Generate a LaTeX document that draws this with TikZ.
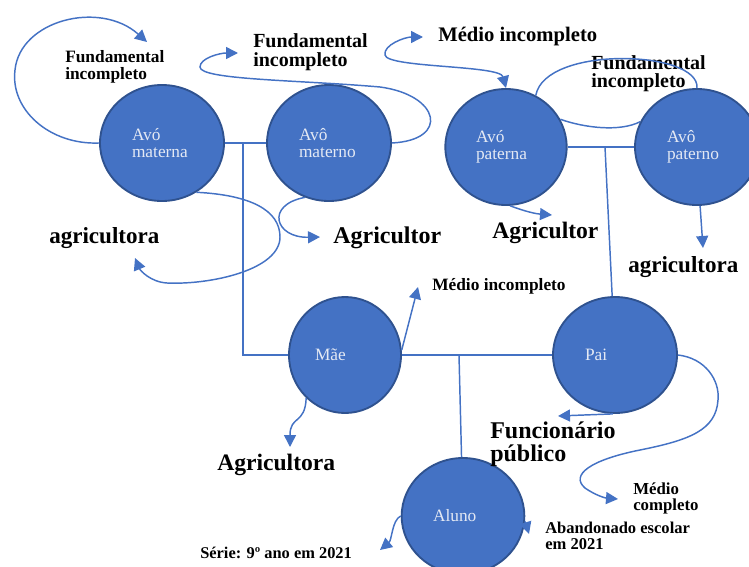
\documentclass[tikz,border=0pt]{standalone}
\usepackage{fontspec}
\setmainfont{Liberation Serif}
\usetikzlibrary{shapes.geometric,arrows.meta}
\definecolor{famblue}{HTML}{4472C4}
\definecolor{famrim}{HTML}{2F528F}
\definecolor{famtext}{HTML}{E4E9F4}

\begin{document}
\begin{tikzpicture}[x=0.75pt,y=-0.75pt]
	\tikzset{person/.style={ellipse,draw=famrim,line width=1.4pt,fill=famblue,minimum width=93pt,minimum height=87pt,inner sep=0pt,text width=45pt,align=left,text=famtext,font=\fontsize{13}{12.5}\selectfont}}
	\tikzset{info/.style={anchor=west,inner sep=0pt,align=left}}
	\tikzset{tie/.style={draw=famblue,line width=1.1pt}}
	\tikzset{link/.style={tie,-{Triangle[length=9pt,width=9pt]}}}
	\useasboundingbox (0,0) rectangle (749,567);

	\node[person] (avoMa) at (162,143) {Avó\\materna};
	\node[person] (avoMo) at (329,143) {Avô\\materno};
	\node[person,minimum width=91pt] (avoPa) at (506,147) {Avó\\paterna};
	\node[person] (avoPo) at (697,147) {Avô\\paterno};
	\node[person,minimum width=84pt] (mae) at (345,355) {Mãe};
	\node[person] (pai) at (615,355) {Pai};
	\node[person,minimum width=92pt] (aluno) at (463,516) {Aluno};

	\node[info,font=\bfseries\fontsize{13}{12.75}\selectfont] (fundA) at (65,67) {Fundamental\\incompleto};
	\node[info,font=\bfseries\fontsize{15}{14}\selectfont] (fundB) at (253,52) {Fundamental\\incompleto};
	\node[info,font=\bfseries\fontsize{15.5}{15}\selectfont] (medA) at (438,37) {Médio incompleto};
	\node[info,font=\bfseries\fontsize{15}{13.5}\selectfont] (fundC) at (591,74) {Fundamental\\incompleto};
	\node[info,font=\bfseries\fontsize{17.3}{17}\selectfont] (agriA) at (49,238) {agricultora};
	\node[info,font=\bfseries\fontsize{18}{17}\selectfont] (agriB) at (333,238) {Agricultor};
	\node[info,font=\bfseries\fontsize{17.7}{17}\selectfont] (agriC) at (492,233) {Agricultor};
	\node[info,font=\bfseries\fontsize{17.3}{17}\selectfont] (agriD) at (628,267) {agricultora};
	\node[info,font=\bfseries\fontsize{13}{13}\selectfont] (medB) at (432,286) {Médio incompleto};
	\node[info,font=\bfseries\fontsize{17.7}{17}\selectfont] (agriE) at (217,465) {Agricultora};
	\node[info,font=\bfseries\fontsize{18}{17}\selectfont] (func) at (490,444) {Funcionário\\público};
	\node[info,font=\bfseries\fontsize{12.6}{12}\selectfont] (medC) at (633,498) {Médio\\completo};
	\node[info,font=\bfseries\fontsize{12.4}{11.8}\selectfont] (aband) at (545,536) {Abandonado escolar\\em 2021};
	\node[info,font=\bfseries\fontsize{12.3}{12}\selectfont] (serie) at (200,553) {Série: 9º ano em 2021};

	\coordinate (jointMa) at (243,143);
	\coordinate (jointPa) at (605,147);
	\coordinate (jointAl) at (459,355);
	\coordinate (tipFa) at (147,42);
	\coordinate (tipFb) at (238,53);
	\coordinate (tipAa) at (135,258);
	\coordinate (tipAb) at (320,237);
	\coordinate (tipMa) at (423,37);
	\coordinate (tipAc) at (552,215);
	\coordinate (tipAd) at (703,248);
	\coordinate (tipMb) at (418,287);
	\coordinate (tipAe) at (290,447);
	\coordinate (tipFu) at (558,416);
	\coordinate (tipMc) at (618,499);
	\coordinate (tipSe) at (380,550);
	\coordinate (tipEs) at (529,534);

	% family lines
	\draw[tie] (avoMa) -- (avoMo);
	\draw[tie] (jointMa) |- (mae);
	\draw[tie] (avoPa) -- (avoPo);
	\draw[tie] (jointPa) -- (pai);
	\draw[tie] (mae) -- (pai);
	\draw[tie] (jointAl) -- (aluno);

	% grandparents
	\draw[link] (avoMa.west) .. controls (50,145) and (10,110) .. (15,70) .. controls (20,20) and (100,0) .. (tipFa);
	\draw[link] (avoMo.east) .. controls (450,140) and (440,95) .. (380,87) .. controls (300,80) and (200,80) .. (200,67) .. controls (200,58) and (220,53) .. (tipFb);
	\draw[link] (avoMa.-55) .. controls (250,195) and (280,210) .. (280,237) .. controls (280,270) and (210,285) .. (167,283) .. controls (150,282) and (140,270) .. (tipAa);
	\draw[link] (avoMo.-114) .. controls (265,205) and (275,238) .. (tipAb);
	\draw[link,{Triangle[length=9pt,width=9pt]}-{Triangle[length=9pt,width=9pt]}] (tipMa) .. controls (405,37) and (383,45) .. (385,55) .. controls (387,68) and (500,65) .. (avoPa.north);
	\draw[tie] (avoPa.60) .. controls (545,45) and (700,50) .. (avoPo.north);
	\draw[tie] (avoPo.156) .. controls (620,132) and (585,128) .. (avoPa.27);
	\draw[link] (avoPa.-86) to[bend right=8] (tipAc);
	\draw[link] (avoPo.-87) -- (tipAd);

	% parents
	\draw[link] (mae.5) -- (tipMb);
	\draw[link] (mae.-132) .. controls (305,425) and (290,415) .. (tipAe);
	\draw[link] (pai.-92) -- (tipFu);
	\draw[link] (pai.east) .. controls (705,358) and (720,380) .. (718,400) .. controls (716,430) and (690,440) .. (640,450) .. controls (590,460) and (570,475) .. (585,488) .. controls (595,495) and (605,498) .. (tipMc);

	% student
	\draw[link] (aluno.180) .. controls (392,520) and (392,540) .. (tipSe);
	\draw[link] (aluno.-5) -- (tipEs);
\end{tikzpicture}
\end{document}
